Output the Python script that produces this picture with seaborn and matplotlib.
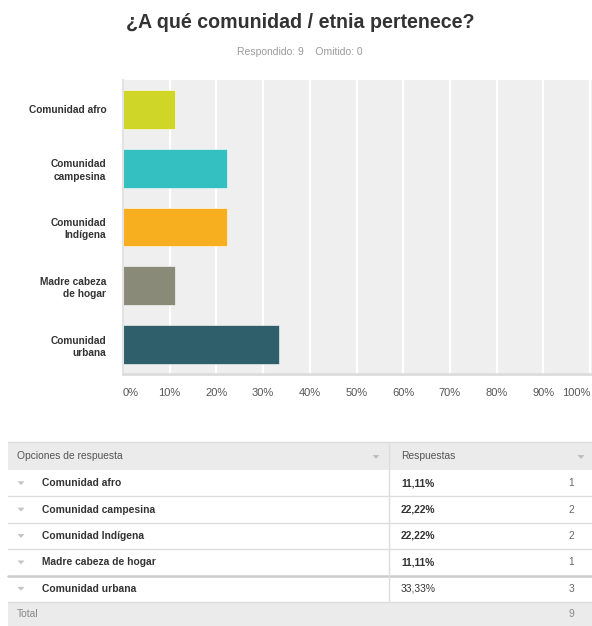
import matplotlib
matplotlib.use("Agg")
import matplotlib.pyplot as plt
import seaborn as sns
import pandas as pd
from matplotlib.patches import Rectangle, Polygon

# ---------------- data ----------------
categories = ["Comunidad afro", "Comunidad\ncampesina", "Comunidad\nIndígena",
              "Madre cabeza\nde hogar", "Comunidad\nurbana"]
percentages = [11.11, 22.22, 22.22, 11.11, 33.33]
counts = [1, 2, 2, 1, 3]
pct_labels = ["11,11%", "22,22%", "22,22%", "11,11%", "33,33%"]
colors = ["#d0d628", "#34bfc1", "#f7ae1f", "#8a8a78", "#2e5f6b"]
xticks = [0, 10, 20, 30, 40, 50, 60, 70, 80, 90, 100]
xtick_labels = ["0%", "10%", "20%", "30%", "40%", "50%", "60%", "70%", "80%", "90%", "100%"]
title = "¿A qué comunidad / etnia pertenece?"
subtitle = "Respondido: 9    Omitido: 0"
total = 9

sns.set_theme(style="white")
plt.rcParams["font.family"] = ["Liberation Sans", "DejaVu Sans"]

W, H = 592, 626
fig = plt.figure(figsize=(W / 100, H / 100), dpi=100)

def fx(px):
    return px / W

def fy(py):
    return 1 - py / H

# ---------------- chart ----------------
left, right, top, bottom = 123, 592, 80, 374
ax = fig.add_axes([fx(left), fy(bottom), fx(right - left), (bottom - top) / H])
df = pd.DataFrame({"cat": categories, "pct": percentages})
sns.barplot(data=df, x="pct", y="cat", hue="cat", palette=colors, orient="h",
            width=0.66, saturation=1, legend=False, ax=ax,
            edgecolor="#ffffff", linewidth=0.4)
ax.set_facecolor("#efefef")
ax.set_xlim(0, 100 * (right - left) / 467)
ax.set_ylim(4.5, -0.5)
for t in xticks[1:]:
    ax.axvline(t, color="white", lw=1.6, zorder=0.5)
ax.set_axisbelow(True)
ax.set_xticks(xticks)
ax.set_xticklabels(xtick_labels, fontsize=8, color="#555555")
labs = ax.get_xticklabels()
labs[0].set_ha("left")
labs[-1].set_ha("right")
ax.tick_params(axis="x", length=0, pad=10)
ax.tick_params(axis="y", length=0, pad=12)
for lab in ax.get_yticklabels():
    lab.set_fontweight("bold")
    lab.set_fontsize(7.3)
    lab.set_color("#333333")
    lab.set_linespacing(1.3)
ax.set_xlabel("")
ax.set_ylabel("")
for s in ["top", "right"]:
    ax.spines[s].set_visible(False)
ax.spines["left"].set_color("#e2e2e2")
ax.spines["left"].set_linewidth(1.5)
ax.spines["bottom"].set_color("#dcdcdc")
ax.spines["bottom"].set_linewidth(2)

# ---------------- overlay (title + table) ----------------
ov = fig.add_axes([0, 0, 1, 1], zorder=-1)
ov.set_xlim(0, W)
ov.set_ylim(H, 0)
ov.axis("off")
ov.patch.set_alpha(0)

ov.text(300, 22, title, ha="center", va="center", fontsize=14.1,
        fontweight="bold", color="#333333")
ov.text(300, 52, subtitle, ha="center", va="center", fontsize=7.5,
        color="#9a9a9a")

def tri(x, y, c="#c0c0c0", s=4):
    ov.add_patch(Polygon([[x - s, y - s * 0.55], [x + s, y - s * 0.55], [x, y + s * 0.55]],
                         closed=True, color=c, lw=0))

tl, tr, tdiv = 8, 592, 389
head_top, head_bot = 442, 470
row_h = 26.4
fs = 7.4
ov.add_patch(Rectangle((tl, head_top), tr - tl, head_bot - head_top, color="#ebebeb", lw=0))
ov.plot([tl, tr], [head_top, head_top], color="#dcdcdc", lw=1)
ov.text(17, 456, "Opciones de respuesta", ha="left", va="center", fontsize=fs, color="#555555")
ov.text(401, 456, "Respuestas", ha="left", va="center", fontsize=fs, color="#555555")
tri(376, 457, "#bdbdbd", 3.5)
tri(581, 457, "#bdbdbd", 3.5)

rows_top = head_bot
for i, cat in enumerate(categories):
    y0 = rows_top + i * row_h
    yc = y0 + row_h / 2
    name = cat.replace("\n", " ")
    tri(21, yc, "#c4c4c4", 3.5)
    ov.text(42, yc, name, ha="left", va="center", fontsize=fs, fontweight="bold", color="#333333")
    bold = "bold" if i < len(categories) - 1 else "normal"
    ov.text(401, yc, pct_labels[i], ha="left", va="center", fontsize=fs,
            fontweight=bold, color="#333333")
    ov.text(574, yc, str(counts[i]), ha="right", va="center", fontsize=fs, color="#666666")
    yb = y0 + row_h
    if i == len(categories) - 2:
        ov.plot([tl, tr], [yb, yb], color="#cccccc", lw=1.8)
    else:
        ov.plot([tl, tr], [yb, yb], color="#dddddd", lw=1)

tot_top = rows_top + len(categories) * row_h
ov.plot([tdiv, tdiv], [head_top, tot_top], color="#dddddd", lw=1)
ov.add_patch(Rectangle((tl, tot_top), tr - tl, H - tot_top, color="#ebebeb", lw=0))
ov.text(17, (tot_top + H) / 2, "Total", ha="left", va="center", fontsize=fs, color="#888888")
ov.text(574, (tot_top + H) / 2, str(total), ha="right", va="center", fontsize=fs, color="#888888")

fig.savefig("out.png", dpi=100, facecolor="white")
